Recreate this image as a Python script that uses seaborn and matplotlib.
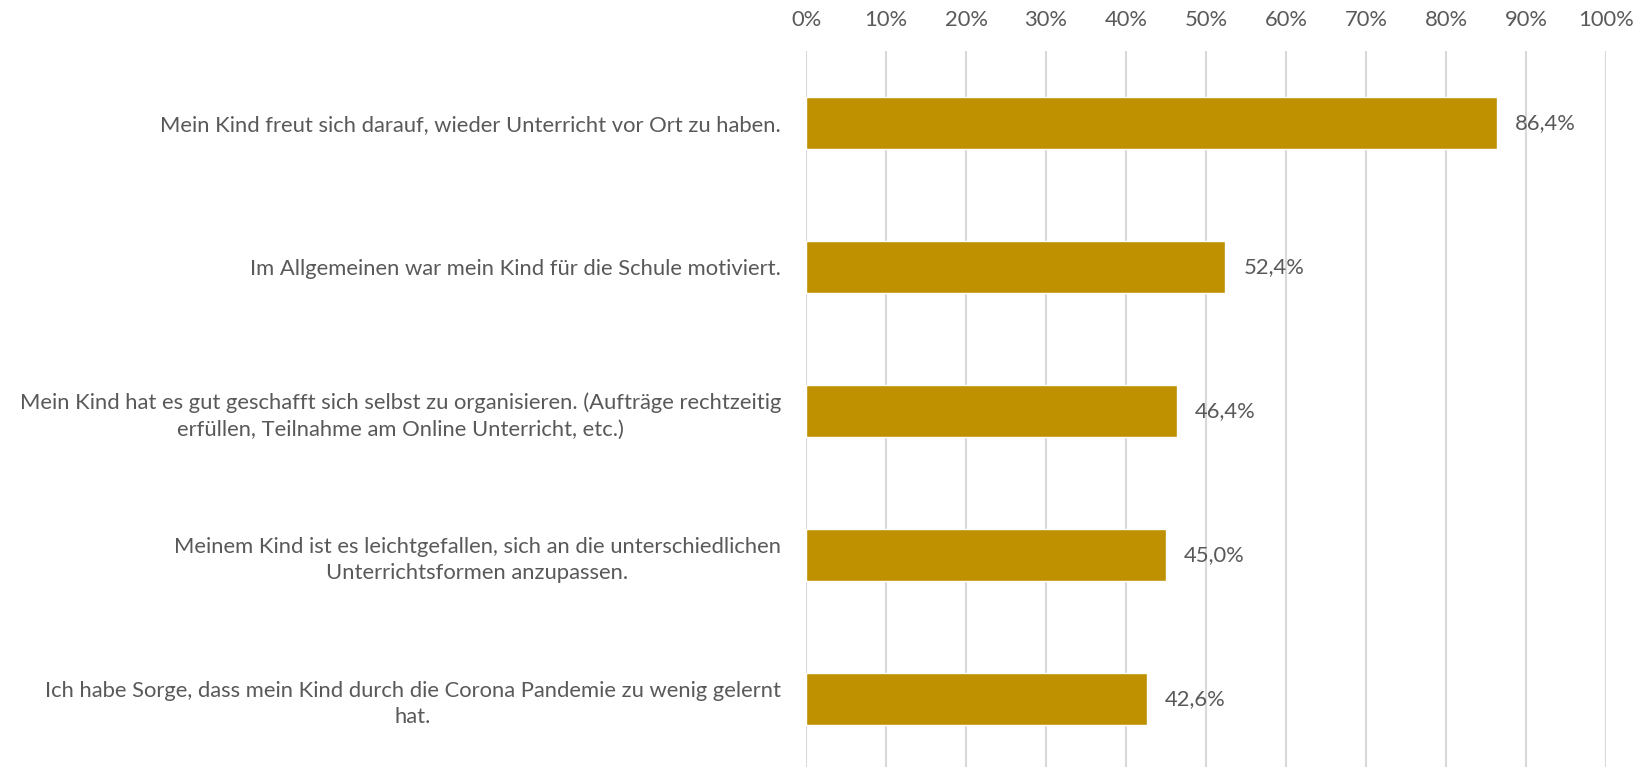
import matplotlib
matplotlib.use("Agg")
import matplotlib.pyplot as plt
import seaborn as sns
import pandas as pd
from matplotlib.ticker import MultipleLocator, FuncFormatter

categories = [
    "Mein Kind freut sich darauf, wieder Unterricht vor Ort zu haben.",
    "Im Allgemeinen war mein Kind für die Schule motiviert.",
    "Mein Kind hat es gut geschafft sich selbst zu organisieren. (Aufträge rechtzeitig\nerfüllen, Teilnahme am Online Unterricht, etc.)",
    "Meinem Kind ist es leichtgefallen, sich an die unterschiedlichen\nUnterrichtsformen anzupassen.",
    "Ich habe Sorge, dass mein Kind durch die Corona Pandemie zu wenig gelernt\nhat.",
]
values = [0.864, 0.524, 0.464, 0.450, 0.426]

sns.set_theme(style="white")
plt.rcParams["font.family"] = ["Lato", "DejaVu Sans"]

TXT = "#595959"
BAR = "#BF9000"
GRID = "#D9D9D9"
FS = 15.8

df = pd.DataFrame({"cat": categories, "val": values})

fig = plt.figure(figsize=(16.37, 7.67), dpi=100)
ax = fig.add_axes([806 / 1637, -4 / 767, 800 / 1637, 720 / 767])

sns.barplot(data=df, x="val", y="cat", color=BAR, width=0.36, ax=ax,
            saturation=1, orient="h")

ax.set_xlim(0, 1)
ax.set_ylim(len(categories) - 0.5, -0.5)
ax.xaxis.set_major_locator(MultipleLocator(0.1))
ax.xaxis.set_major_formatter(FuncFormatter(lambda v, p: f"{v*100:.0f}%"))
ax.xaxis.tick_top()
ax.grid(axis="x", color=GRID, linewidth=1.5)
ax.grid(axis="y", visible=False)
ax.set_axisbelow(True)
for s in ax.spines.values():
    s.set_visible(False)
ax.set_xlabel("")
ax.set_ylabel("")
ax.tick_params(axis="x", length=0, pad=15, labelsize=FS, labelcolor=TXT)
ax.tick_params(axis="y", length=0, pad=18, labelsize=FS, labelcolor=TXT)
for lab in ax.get_yticklabels():
    lab.set_multialignment("center")
    lab.set_linespacing(1.4)

for cont in ax.containers:
    ax.bar_label(cont, labels=[f"{v*100:.1f}%".replace(".", ",") for v in values],
                 padding=13, fontsize=FS, color=TXT)

fig.savefig("out.png", dpi=100)
